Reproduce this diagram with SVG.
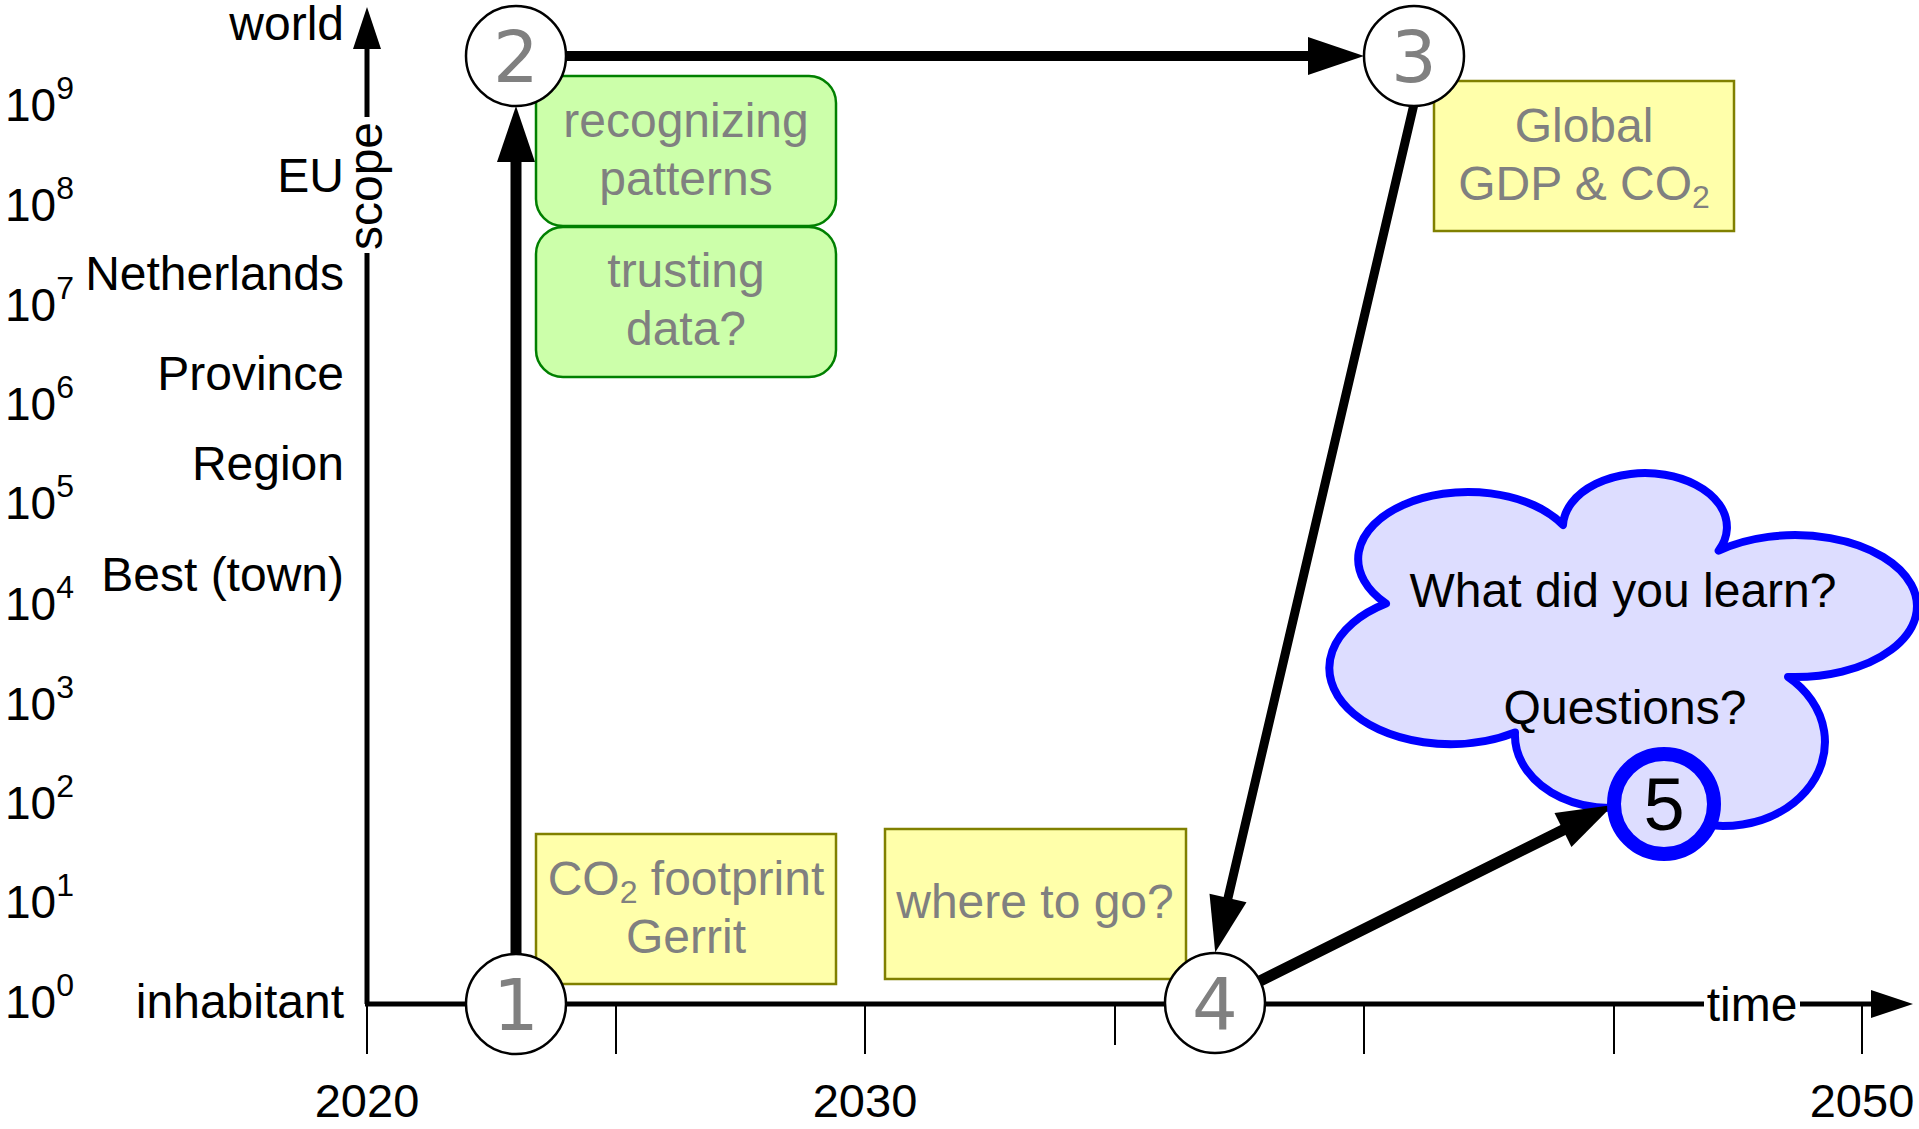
<svg xmlns="http://www.w3.org/2000/svg" width="1919" height="1129" viewBox="0 0 1919 1129">
<style>
.t{font-family:"Liberation Sans",Arial,sans-serif;font-size:48px;fill:#000}
.e{text-anchor:end}
.m{text-anchor:middle}
.g{fill:#808080}
.p{font-size:46px}
.yr{font-size:47px;text-anchor:middle}
.num{font-family:"DejaVu Sans",sans-serif;font-size:72px;fill:#808080;text-anchor:middle}
.node{fill:#fff;stroke:#000;stroke-width:2.5}
.green{fill:#ccffaa;stroke:#008000;stroke-width:2.5}
.yellow{fill:#ffffaa;stroke:#808000;stroke-width:2.5}
.conn{stroke:#000;fill:none;stroke-linecap:round;marker-end:url(#ah)}
.axis{stroke:#000;stroke-width:5;fill:none}
.tick{stroke:#000;stroke-width:2}
.bg{fill:#fff}
</style>
<defs>
<marker id="ah" markerUnits="userSpaceOnUse" markerWidth="57" markerHeight="40" viewBox="0 -20 57 40" refX="0" refY="0" orient="auto" overflow="visible"><path d="M0,-19 L56,0 L0,19 z" fill="#000"/></marker>
<marker id="axh" markerUnits="userSpaceOnUse" markerWidth="43" markerHeight="30" viewBox="0 -15 43 30" refX="0" refY="0" orient="auto" overflow="visible"><path d="M0,-14 L42,0 L0,14 z" fill="#000"/></marker>
</defs>

<g id="axes">
<line class="tick" x1="367" y1="1004" x2="367" y2="1054"/>
<line class="tick" x1="616" y1="1004" x2="616" y2="1054"/>
<line class="tick" x1="865" y1="1004" x2="865" y2="1054"/>
<line class="tick" x1="1115" y1="1004" x2="1115" y2="1045"/>
<line class="tick" x1="1364" y1="1004" x2="1364" y2="1054"/>
<line class="tick" x1="1614" y1="1004" x2="1614" y2="1054"/>
<line class="tick" x1="1862" y1="1004" x2="1862" y2="1054"/>
<path class="axis" d="M367,1004 L367,49" marker-end="url(#axh)"/>
<path class="axis" d="M365,1004 L1871,1004" marker-end="url(#axh)"/>
<rect class="bg" x="352" y="117" width="40" height="136"/>
<text class="t m" transform="translate(382,186) rotate(-90)">scope</text>
<rect class="bg" x="1704" y="985" width="96" height="36"/>
<text class="t m" x="1752" y="1021">time</text>
<text class="t yr" x="367" y="1117">2020</text>
<text class="t yr" x="865" y="1117">2030</text>
<text class="t yr" x="1862" y="1117">2050</text>
</g>

<g id="scale-labels">
<text class="t e" x="344" y="40">world</text>
<text class="t e" x="344" y="192">EU</text>
<text class="t e" x="344" y="290">Netherlands</text>
<text class="t e" x="344" y="390">Province</text>
<text class="t e" x="344" y="480">Region</text>
<text class="t e" x="344" y="591">Best (town)</text>
<text class="t e" x="344" y="1018">inhabitant</text>
<text class="t p" x="5" y="121">10<tspan dy="-22" font-size="32">9</tspan></text>
<text class="t p" x="5" y="221">10<tspan dy="-22" font-size="32">8</tspan></text>
<text class="t p" x="5" y="321">10<tspan dy="-22" font-size="32">7</tspan></text>
<text class="t p" x="5" y="420">10<tspan dy="-22" font-size="32">6</tspan></text>
<text class="t p" x="5" y="519">10<tspan dy="-22" font-size="32">5</tspan></text>
<text class="t p" x="5" y="620">10<tspan dy="-22" font-size="32">4</tspan></text>
<text class="t p" x="5" y="720">10<tspan dy="-22" font-size="32">3</tspan></text>
<text class="t p" x="5" y="819">10<tspan dy="-22" font-size="32">2</tspan></text>
<text class="t p" x="5" y="918">10<tspan dy="-22" font-size="32">1</tspan></text>
<text class="t p" x="5" y="1018">10<tspan dy="-22" font-size="32">0</tspan></text>
</g>

<g id="cloud">
<path d="M1386,603.5 A110,67 0 1 1 1563,525 A82,54 0 1 1 1718.7,550.7 A122,71 0 1 1 1788,677 A101,84 0 0 1 1669.5,812.7 L1657.5,798.2 A95,73 0 0 1 1515,732.5 A121,76 0 0 1 1386,603.5 Z" fill="#ddddff" stroke="#0000ff" stroke-width="8" stroke-linejoin="round"/>
<text class="t m" x="1623" y="607">What did you learn?</text>
<text class="t m" x="1625" y="724">Questions?</text>
</g>

<g id="connectors">
<path class="conn" stroke-width="11" d="M516,954 L516,162"/>
<path class="conn" stroke-width="10" d="M566,56 L1308,56"/>
<path class="conn" stroke-width="9" d="M1414,104 L1228,898"/>
<path class="conn" stroke-width="11" d="M1260,981 L1563,830"/>
</g>

<g id="box-recognizing">
<rect class="green" x="536" y="76" width="300" height="150" rx="27" ry="27"/>
<text class="t m g" x="686" y="137">recognizing</text>
<text class="t m g" x="686" y="195">patterns</text>
</g>
<g id="box-trusting">
<rect class="green" x="536" y="227" width="300" height="150" rx="27" ry="27"/>
<text class="t m g" x="686" y="287">trusting</text>
<text class="t m g" x="686" y="345">data?</text>
</g>
<g id="box-global">
<rect class="yellow" x="1434" y="81" width="300" height="150"/>
<text class="t m g" x="1584" y="142">Global</text>
<text class="t m g" x="1584" y="200">GDP &amp; CO<tspan dy="8" font-size="32">2</tspan></text>
</g>
<g id="box-footprint">
<rect class="yellow" x="536" y="834" width="300" height="150"/>
<text class="t m g" x="686" y="895">CO<tspan dy="8" font-size="32">2</tspan><tspan dy="-8"> footprint</tspan></text>
<text class="t m g" x="686" y="953">Gerrit</text>
</g>
<g id="box-where">
<rect class="yellow" x="885" y="829" width="301" height="150"/>
<text class="t m g" x="1035" y="918">where to go?</text>
</g>

<g id="node1"><circle class="node" cx="516" cy="1004" r="50"/><text class="num" x="516" y="1030">1</text></g>
<g id="node2"><circle class="node" cx="516" cy="56" r="50"/><text class="num" x="516" y="82">2</text></g>
<g id="node3"><circle class="node" cx="1414" cy="56" r="50"/><text class="num" x="1414" y="82">3</text></g>
<g id="node4"><circle class="node" cx="1215" cy="1003" r="50"/><text class="num" x="1215" y="1029">4</text></g>
<g id="node5"><circle cx="1664" cy="804" r="50" fill="#ddddff" stroke="#0000ff" stroke-width="14"/><text class="t m" x="1664" y="830" style="font-size:74px">5</text></g>
</svg>
